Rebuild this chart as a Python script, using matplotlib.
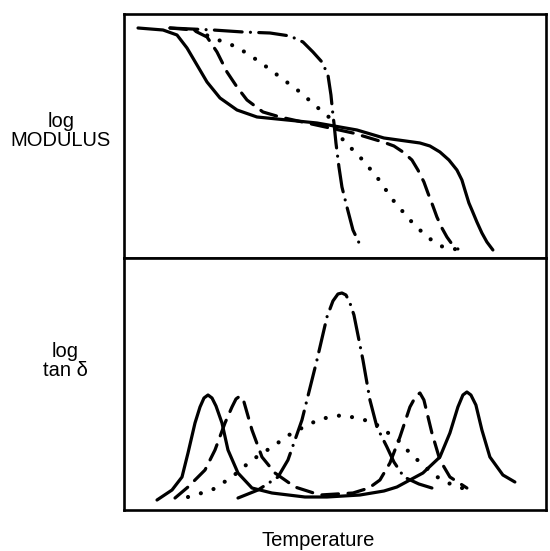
import matplotlib
matplotlib.use("Agg")
import matplotlib.pyplot as plt

plt.rcParams['font.family'] = ['Liberation Sans', 'DejaVu Sans']

# top panel: log modulus vs temperature (arbitrary units)
mod_solid_x = [14, 39, 53, 63, 73, 83, 96, 113, 133, 163, 193, 233, 260, 296, 306, 316, 325, 333,
               338, 341, 345, 348, 353, 358, 363, 369]
mod_solid_y = [230, 228, 223, 210, 193, 176, 160, 148, 141, 138, 135, 128, 120, 115, 112, 106, 98, 88,
               78, 68, 55, 48, 36, 25, 16, 8]

mod_dash_x = [46, 69, 83, 93, 103, 113, 123, 139, 156, 183, 229, 259, 270, 279, 288, 294, 300, 304,
              309, 313, 318, 323, 328, 334]
mod_dash_y = [230, 228, 221, 206, 186, 171, 158, 146, 141, 135, 125, 116, 112, 106, 98, 88, 76, 65,
              52, 41, 30, 21, 14, 9]

mod_dot_x = [71, 89, 113, 136, 156, 176, 193, 206, 213, 219, 236, 253, 269, 286, 303, 319, 336]
mod_dot_y = [228, 220, 211, 196, 181, 166, 151, 140, 130, 118, 101, 81, 58, 38, 21, 11, 8]

mod_dashdot_x = [46, 89, 119, 146, 166, 179, 189, 198, 204, 207, 209, 210, 212, 215, 218, 223, 229, 238]
mod_dashdot_y = [230, 228, 226, 225, 222, 216, 206, 196, 183, 163, 143, 135, 115, 91, 71, 51, 28, 9]

# bottom panel: log tan delta vs temperature
tan_solid_x = [33, 48, 58, 64, 71, 76, 80, 84, 88, 92, 98, 104, 114, 128, 148, 181, 203, 236, 260,
               273, 299, 316, 326, 334, 339, 343, 347, 352, 358, 366, 379, 391]
tan_solid_y = [10, 20, 33, 57, 87, 103, 112, 115, 112, 104, 87, 60, 37, 22, 17, 13, 13, 15, 19,
               23, 37, 53, 77, 103, 115, 118, 115, 105, 80, 53, 35, 28]

tan_dash_x = [51, 64, 81, 91, 101, 108, 112, 116, 120, 128, 138, 151, 171, 196, 229, 245, 256, 266,
              276, 286, 292, 296, 300, 308, 316, 326, 343]
tan_dash_y = [12, 23, 40, 60, 87, 103, 111, 114, 108, 80, 53, 37, 23, 15, 17, 22, 30, 47,
              73, 103, 114, 117, 110, 77, 50, 33, 22]

tan_dot_x = [64, 88, 108, 128, 148, 168, 196, 219, 249, 260, 273, 286, 300, 316, 333, 343]
tan_dot_y = [13, 20, 33, 50, 63, 77, 91, 95, 88, 80, 71, 57, 44, 31, 23, 21]

tan_dashdot_x = [114, 134, 154, 164, 171, 178, 193, 203, 209, 214, 218, 222, 226, 230, 239, 246,
                 253, 263, 270, 280, 295, 308]
tan_dashdot_y = [12, 20, 33, 50, 70, 90, 150, 193, 209, 216, 217, 215, 207, 195, 150, 110,
                 83, 63, 48, 33, 26, 22]

styles = {
    'solid': dict(linestyle='-', linewidth=2.3, solid_capstyle='round', solid_joinstyle='round'),
    'dash': dict(linestyle=(0, (5.2, 3.0)), linewidth=2.3, dash_capstyle='round'),
    'dot': dict(linestyle=(0, (0.01, 3.2)), linewidth=3.0, dash_capstyle='round'),
    'dashdot': dict(linestyle=(0, (8.7, 2.6, 0.01, 2.6)), linewidth=2.3, dash_capstyle='round'),
}

fig = plt.figure(figsize=(5.5, 5.51), dpi=100)
ax_top = fig.add_axes([0.2255, 0.5318, 0.767, 0.4428])
ax_bot = fig.add_axes([0.2255, 0.0744, 0.767, 0.4574])

ax_top.plot(mod_solid_x, mod_solid_y, color='black', **styles['solid'])
ax_top.plot(mod_dash_x, mod_dash_y, color='black', **styles['dash'])
ax_top.plot(mod_dot_x, mod_dot_y, color='black', **styles['dot'])
ax_top.plot(mod_dashdot_x, mod_dashdot_y, color='black', **styles['dashdot'])

ax_bot.plot(tan_solid_x, tan_solid_y, color='black', **styles['solid'])
ax_bot.plot(tan_dash_x, tan_dash_y, color='black', **styles['dash'])
ax_bot.plot(tan_dot_x, tan_dot_y, color='black', **styles['dot'])
ax_bot.plot(tan_dashdot_x, tan_dashdot_y, color='black', **styles['dashdot'])

ax_top.set_xlim(0, 422)
ax_top.set_ylim(0, 244)
ax_bot.set_xlim(0, 422)
ax_bot.set_ylim(0, 252)

for ax in (ax_top, ax_bot):
    ax.set_xticks([])
    ax.set_yticks([])
    for s in ax.spines.values():
        s.set_linewidth(1.9)

fig.text(61 / 550, 1 - 131 / 551, 'log\nMODULUS', ha='center', va='center',
         fontsize=14.5, linespacing=1.05)
fig.text(65 / 550, 1 - 361 / 551, 'log\ntan δ', ha='center', va='center',
         fontsize=14.5, linespacing=1.05)
fig.text(318 / 550, 1 - 541 / 551, 'Temperature', ha='center', va='center',
         fontsize=14.5)

fig.savefig('out.png', dpi=100)
